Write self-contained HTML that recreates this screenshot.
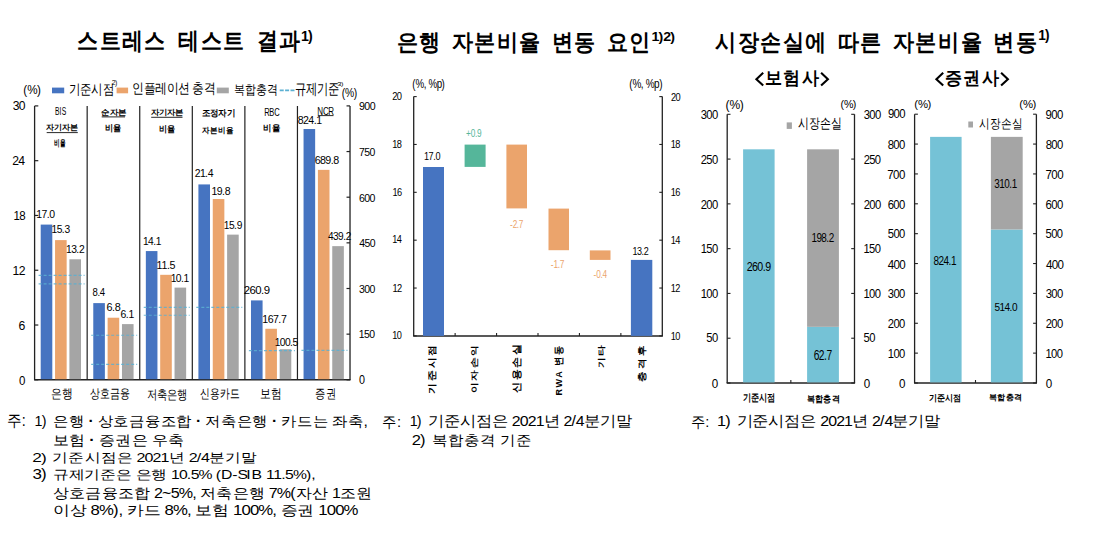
<!DOCTYPE html>
<html><head><meta charset="utf-8"><title>stress test</title><style>
html,body{margin:0;padding:0;background:#fff;}
body{width:1099px;height:540px;overflow:hidden;}
svg{display:block;font-family:"Liberation Sans",sans-serif;}
</style></head><body>
<svg width="1099" height="540" viewBox="0 0 1099 540">
<rect width="1099" height="540" fill="#fff"/>
<rect x="52.00" y="87.60" width="12.20" height="5.70" fill="#4674C1" />
<rect x="116.60" y="87.60" width="11.50" height="5.70" fill="#EBA46C" />
<rect x="216.80" y="87.60" width="12.00" height="5.70" fill="#A5A5A5" />
<line x1="279.70" y1="90.40" x2="294.50" y2="90.40" stroke="#5BB0D2" stroke-width="1.6" stroke-dasharray="4,1.4"/>
<line x1="34.60" y1="105.90" x2="34.60" y2="379.80" stroke="#222" stroke-width="1.3" />
<line x1="350.02" y1="105.90" x2="350.02" y2="379.80" stroke="#222" stroke-width="1.3" />
<line x1="34.00" y1="379.80" x2="350.62" y2="379.80" stroke="#222" stroke-width="1.5" />
<line x1="34.60" y1="379.80" x2="38.30" y2="379.80" stroke="#222" stroke-width="1.2" />
<line x1="34.60" y1="325.02" x2="38.30" y2="325.02" stroke="#222" stroke-width="1.2" />
<line x1="34.60" y1="270.24" x2="38.30" y2="270.24" stroke="#222" stroke-width="1.2" />
<line x1="34.60" y1="215.46" x2="38.30" y2="215.46" stroke="#222" stroke-width="1.2" />
<line x1="34.60" y1="160.68" x2="38.30" y2="160.68" stroke="#222" stroke-width="1.2" />
<line x1="34.60" y1="105.90" x2="38.30" y2="105.90" stroke="#222" stroke-width="1.2" />
<line x1="346.52" y1="379.80" x2="350.02" y2="379.80" stroke="#222" stroke-width="1.2" />
<line x1="346.52" y1="334.15" x2="350.02" y2="334.15" stroke="#222" stroke-width="1.2" />
<line x1="346.52" y1="288.50" x2="350.02" y2="288.50" stroke="#222" stroke-width="1.2" />
<line x1="346.52" y1="242.85" x2="350.02" y2="242.85" stroke="#222" stroke-width="1.2" />
<line x1="346.52" y1="197.20" x2="350.02" y2="197.20" stroke="#222" stroke-width="1.2" />
<line x1="346.52" y1="151.55" x2="350.02" y2="151.55" stroke="#222" stroke-width="1.2" />
<line x1="346.52" y1="105.90" x2="350.02" y2="105.90" stroke="#222" stroke-width="1.2" />
<line x1="87.17" y1="105.90" x2="87.17" y2="379.80" stroke="#222" stroke-width="1.2" />
<line x1="139.74" y1="105.90" x2="139.74" y2="379.80" stroke="#222" stroke-width="1.2" />
<line x1="192.31" y1="105.90" x2="192.31" y2="379.80" stroke="#222" stroke-width="1.2" />
<line x1="244.88" y1="105.90" x2="244.88" y2="379.80" stroke="#222" stroke-width="1.2" />
<line x1="297.45" y1="105.90" x2="297.45" y2="379.80" stroke="#222" stroke-width="1.2" />
<rect x="40.70" y="224.59" width="11.60" height="154.61" fill="#4674C1" />
<rect x="55.05" y="240.11" width="11.60" height="139.09" fill="#EBA46C" />
<rect x="69.40" y="259.28" width="11.60" height="119.92" fill="#A5A5A5" />
<rect x="93.27" y="303.11" width="11.60" height="76.09" fill="#4674C1" />
<rect x="107.62" y="317.72" width="11.60" height="61.48" fill="#EBA46C" />
<rect x="121.97" y="324.11" width="11.60" height="55.09" fill="#A5A5A5" />
<rect x="145.84" y="251.07" width="11.60" height="128.13" fill="#4674C1" />
<rect x="160.19" y="274.81" width="11.60" height="104.39" fill="#EBA46C" />
<rect x="174.54" y="287.59" width="11.60" height="91.61" fill="#A5A5A5" />
<rect x="198.41" y="184.42" width="11.60" height="194.78" fill="#4674C1" />
<rect x="212.76" y="199.03" width="11.60" height="180.17" fill="#EBA46C" />
<rect x="227.11" y="234.63" width="11.60" height="144.57" fill="#A5A5A5" />
<rect x="250.98" y="300.40" width="11.60" height="78.80" fill="#4674C1" />
<rect x="265.33" y="328.76" width="11.60" height="50.44" fill="#EBA46C" />
<rect x="279.68" y="349.21" width="11.60" height="29.99" fill="#A5A5A5" />
<rect x="303.55" y="129.00" width="11.60" height="250.20" fill="#4674C1" />
<rect x="317.90" y="169.87" width="11.60" height="209.33" fill="#EBA46C" />
<rect x="332.25" y="246.14" width="11.60" height="133.06" fill="#A5A5A5" />
<line x1="46.70" y1="132.60" x2="77.80" y2="132.60" stroke="#111" stroke-width="0.9" />
<line x1="101.70" y1="116.90" x2="125.00" y2="116.90" stroke="#111" stroke-width="0.9" />
<line x1="151.20" y1="117.30" x2="182.50" y2="117.30" stroke="#111" stroke-width="0.9" />
<line x1="317.80" y1="115.60" x2="333.50" y2="115.60" stroke="#111" stroke-width="0.9" />
<line x1="413.70" y1="96.60" x2="413.70" y2="335.90" stroke="#222" stroke-width="1.3" />
<line x1="662.30" y1="96.60" x2="662.30" y2="335.90" stroke="#222" stroke-width="1.3" />
<line x1="413.10" y1="335.90" x2="662.90" y2="335.90" stroke="#222" stroke-width="1.5" />
<line x1="413.70" y1="335.90" x2="416.70" y2="335.90" stroke="#222" stroke-width="1.1" />
<line x1="659.30" y1="335.90" x2="662.30" y2="335.90" stroke="#222" stroke-width="1.1" />
<line x1="413.70" y1="288.04" x2="416.70" y2="288.04" stroke="#222" stroke-width="1.1" />
<line x1="659.30" y1="288.04" x2="662.30" y2="288.04" stroke="#222" stroke-width="1.1" />
<line x1="413.70" y1="240.18" x2="416.70" y2="240.18" stroke="#222" stroke-width="1.1" />
<line x1="659.30" y1="240.18" x2="662.30" y2="240.18" stroke="#222" stroke-width="1.1" />
<line x1="413.70" y1="192.32" x2="416.70" y2="192.32" stroke="#222" stroke-width="1.1" />
<line x1="659.30" y1="192.32" x2="662.30" y2="192.32" stroke="#222" stroke-width="1.1" />
<line x1="413.70" y1="144.46" x2="416.70" y2="144.46" stroke="#222" stroke-width="1.1" />
<line x1="659.30" y1="144.46" x2="662.30" y2="144.46" stroke="#222" stroke-width="1.1" />
<line x1="413.70" y1="96.60" x2="416.70" y2="96.60" stroke="#222" stroke-width="1.1" />
<line x1="659.30" y1="96.60" x2="662.30" y2="96.60" stroke="#222" stroke-width="1.1" />
<line x1="455.13" y1="332.90" x2="455.13" y2="335.90" stroke="#222" stroke-width="1.1" />
<line x1="496.57" y1="332.90" x2="496.57" y2="335.90" stroke="#222" stroke-width="1.1" />
<line x1="538.00" y1="332.90" x2="538.00" y2="335.90" stroke="#222" stroke-width="1.1" />
<line x1="579.43" y1="332.90" x2="579.43" y2="335.90" stroke="#222" stroke-width="1.1" />
<line x1="620.87" y1="332.90" x2="620.87" y2="335.90" stroke="#222" stroke-width="1.1" />
<rect x="423.00" y="167.00" width="21.00" height="168.90" fill="#4674C1" />
<rect x="464.60" y="144.60" width="21.00" height="22.30" fill="#55B69A" />
<rect x="506.40" y="144.60" width="20.60" height="63.80" fill="#EBA46C" />
<rect x="548.50" y="208.60" width="20.50" height="41.60" fill="#EBA46C" />
<rect x="589.80" y="250.40" width="20.70" height="9.50" fill="#EBA46C" />
<rect x="630.90" y="259.90" width="21.40" height="76.00" fill="#4674C1" />
<polyline points="763.2,72.8 756.4,79.2 763.2,85.6" fill="none" stroke="#000" stroke-width="2.1" stroke-linejoin="miter"/>
<polyline points="821.1,72.8 827.9,79.2 821.1,85.6" fill="none" stroke="#000" stroke-width="2.1" stroke-linejoin="miter"/>
<polyline points="943.2,72.8 936.4,79.2 943.2,85.6" fill="none" stroke="#000" stroke-width="2.1" stroke-linejoin="miter"/>
<polyline points="1001.1,72.8 1007.9,79.2 1001.1,85.6" fill="none" stroke="#000" stroke-width="2.1" stroke-linejoin="miter"/>
<line x1="727.20" y1="114.30" x2="727.20" y2="383.00" stroke="#222" stroke-width="1.3" />
<line x1="854.50" y1="114.30" x2="854.50" y2="383.00" stroke="#222" stroke-width="1.3" />
<line x1="726.60" y1="383.00" x2="855.10" y2="383.00" stroke="#222" stroke-width="1.5" />
<line x1="790.85" y1="380.00" x2="790.85" y2="383.00" stroke="#222" stroke-width="1.1" />
<line x1="727.20" y1="383.00" x2="730.50" y2="383.00" stroke="#222" stroke-width="1.1" />
<line x1="851.20" y1="383.00" x2="854.50" y2="383.00" stroke="#222" stroke-width="1.1" />
<line x1="727.20" y1="338.22" x2="730.50" y2="338.22" stroke="#222" stroke-width="1.1" />
<line x1="851.20" y1="338.22" x2="854.50" y2="338.22" stroke="#222" stroke-width="1.1" />
<line x1="727.20" y1="293.43" x2="730.50" y2="293.43" stroke="#222" stroke-width="1.1" />
<line x1="851.20" y1="293.43" x2="854.50" y2="293.43" stroke="#222" stroke-width="1.1" />
<line x1="727.20" y1="248.65" x2="730.50" y2="248.65" stroke="#222" stroke-width="1.1" />
<line x1="851.20" y1="248.65" x2="854.50" y2="248.65" stroke="#222" stroke-width="1.1" />
<line x1="727.20" y1="203.87" x2="730.50" y2="203.87" stroke="#222" stroke-width="1.1" />
<line x1="851.20" y1="203.87" x2="854.50" y2="203.87" stroke="#222" stroke-width="1.1" />
<line x1="727.20" y1="159.08" x2="730.50" y2="159.08" stroke="#222" stroke-width="1.1" />
<line x1="851.20" y1="159.08" x2="854.50" y2="159.08" stroke="#222" stroke-width="1.1" />
<line x1="727.20" y1="114.30" x2="730.50" y2="114.30" stroke="#222" stroke-width="1.1" />
<line x1="851.20" y1="114.30" x2="854.50" y2="114.30" stroke="#222" stroke-width="1.1" />
<rect x="743.10" y="149.32" width="31.50" height="233.08" fill="#75C2D6" />
<rect x="807.10" y="326.84" width="31.80" height="55.56" fill="#75C2D6" />
<rect x="807.10" y="149.32" width="31.80" height="177.52" fill="#A5A5A5" />
<rect x="786.70" y="122.40" width="5.20" height="6.50" fill="#A5A5A5" />
<line x1="914.60" y1="114.20" x2="914.60" y2="383.00" stroke="#222" stroke-width="1.3" />
<line x1="1036.40" y1="114.20" x2="1036.40" y2="383.00" stroke="#222" stroke-width="1.3" />
<line x1="914.00" y1="383.00" x2="1037.00" y2="383.00" stroke="#222" stroke-width="1.5" />
<line x1="975.50" y1="380.00" x2="975.50" y2="383.00" stroke="#222" stroke-width="1.1" />
<line x1="914.60" y1="383.00" x2="917.90" y2="383.00" stroke="#222" stroke-width="1.1" />
<line x1="1033.10" y1="383.00" x2="1036.40" y2="383.00" stroke="#222" stroke-width="1.1" />
<line x1="914.60" y1="353.13" x2="917.90" y2="353.13" stroke="#222" stroke-width="1.1" />
<line x1="1033.10" y1="353.13" x2="1036.40" y2="353.13" stroke="#222" stroke-width="1.1" />
<line x1="914.60" y1="323.27" x2="917.90" y2="323.27" stroke="#222" stroke-width="1.1" />
<line x1="1033.10" y1="323.27" x2="1036.40" y2="323.27" stroke="#222" stroke-width="1.1" />
<line x1="914.60" y1="293.40" x2="917.90" y2="293.40" stroke="#222" stroke-width="1.1" />
<line x1="1033.10" y1="293.40" x2="1036.40" y2="293.40" stroke="#222" stroke-width="1.1" />
<line x1="914.60" y1="263.53" x2="917.90" y2="263.53" stroke="#222" stroke-width="1.1" />
<line x1="1033.10" y1="263.53" x2="1036.40" y2="263.53" stroke="#222" stroke-width="1.1" />
<line x1="914.60" y1="233.67" x2="917.90" y2="233.67" stroke="#222" stroke-width="1.1" />
<line x1="1033.10" y1="233.67" x2="1036.40" y2="233.67" stroke="#222" stroke-width="1.1" />
<line x1="914.60" y1="203.80" x2="917.90" y2="203.80" stroke="#222" stroke-width="1.1" />
<line x1="1033.10" y1="203.80" x2="1036.40" y2="203.80" stroke="#222" stroke-width="1.1" />
<line x1="914.60" y1="173.93" x2="917.90" y2="173.93" stroke="#222" stroke-width="1.1" />
<line x1="1033.10" y1="173.93" x2="1036.40" y2="173.93" stroke="#222" stroke-width="1.1" />
<line x1="914.60" y1="144.07" x2="917.90" y2="144.07" stroke="#222" stroke-width="1.1" />
<line x1="1033.10" y1="144.07" x2="1036.40" y2="144.07" stroke="#222" stroke-width="1.1" />
<line x1="914.60" y1="114.20" x2="917.90" y2="114.20" stroke="#222" stroke-width="1.1" />
<line x1="1033.10" y1="114.20" x2="1036.40" y2="114.20" stroke="#222" stroke-width="1.1" />
<rect x="930.10" y="136.87" width="31.50" height="245.53" fill="#75C2D6" />
<rect x="990.90" y="229.49" width="31.80" height="152.91" fill="#75C2D6" />
<rect x="990.90" y="136.87" width="31.80" height="92.62" fill="#A5A5A5" />
<rect x="968.30" y="121.50" width="4.70" height="6.00" fill="#A5A5A5" />
<line x1="38.60" y1="275.30" x2="84.60" y2="275.30" stroke="#5BB0D2" stroke-width="1.15" stroke-dasharray="3,2" opacity="0.85"/>
<line x1="38.60" y1="283.80" x2="84.60" y2="283.80" stroke="#5BB0D2" stroke-width="1.15" stroke-dasharray="3,2" opacity="0.85"/>
<line x1="91.17" y1="335.20" x2="137.17" y2="335.20" stroke="#5BB0D2" stroke-width="1.15" stroke-dasharray="3,2" opacity="0.85"/>
<line x1="91.17" y1="364.30" x2="137.17" y2="364.30" stroke="#5BB0D2" stroke-width="1.15" stroke-dasharray="3,2" opacity="0.85"/>
<line x1="143.74" y1="307.30" x2="189.74" y2="307.30" stroke="#5BB0D2" stroke-width="1.15" stroke-dasharray="3,2" opacity="0.85"/>
<line x1="143.74" y1="315.20" x2="189.74" y2="315.20" stroke="#5BB0D2" stroke-width="1.15" stroke-dasharray="3,2" opacity="0.85"/>
<line x1="196.31" y1="307.30" x2="242.31" y2="307.30" stroke="#5BB0D2" stroke-width="1.15" stroke-dasharray="3,2" opacity="0.85"/>
<line x1="248.88" y1="350.60" x2="294.88" y2="350.60" stroke="#5BB0D2" stroke-width="1.15" stroke-dasharray="3,2" opacity="0.85"/>
<line x1="301.45" y1="350.40" x2="347.45" y2="350.40" stroke="#5BB0D2" stroke-width="1.15" stroke-dasharray="3,2" opacity="0.85"/>
<text transform="translate(77.464,49.377) scale(0.51752,0.59352)" x="0 43 86 129 172 195 238 281 324 347 390" font-size="40" font-weight="bold" fill="#000">스트레스 테스트 결과</text>
<text transform="translate(300.908,40.590) scale(0.35527,0.35035)" x="0 20" font-size="40" font-weight="bold" fill="#000">1)</text>
<text transform="translate(396.905,50.202) scale(0.53767,0.58623)" x="0 42 84 102 144 186 228 270 288 330 372 390 432" font-size="40" font-weight="bold" fill="#000">은행 자본비율 변동 요인</text>
<text transform="translate(651.405,41.227) scale(0.35519,0.32953)" x="0 20 33.31 53.31" font-size="40" font-weight="bold" fill="#000">1)2)</text>
<text transform="translate(715.020,50.205) scale(0.53857,0.58578)" x="0 42 84 126 168 210 228 270 312 330 372 414 456 498 516 558" font-size="40" font-weight="bold" fill="#000">시장손실에 따른 자본비율 변동</text>
<text transform="translate(1038.182,40.355) scale(0.34181,0.35657)" x="0 20" font-size="40" font-weight="bold" fill="#000">1)</text>
<text transform="translate(23.277,93.514) scale(0.29209,0.31828)" x="0 13.31 46.64" font-size="40" font-weight="normal" fill="#000">(%)</text>
<text transform="translate(68.671,93.760) scale(0.28438,0.34627)" x="0 40 80 120" font-size="40" font-weight="normal" fill="#000">기준시점</text>
<text transform="translate(111.632,85.225) scale(0.17069,0.16249)" x="0 20" font-size="40" font-weight="normal" fill="#000">2)</text>
<text transform="translate(132.287,93.133) scale(0.28553,0.33750)" x="0 40 80 120 160 200 210 250" font-size="40" font-weight="normal" fill="#000">인플레이션 충격</text>
<text transform="translate(233.561,93.597) scale(0.27656,0.32806)" x="0 40 80 120" font-size="40" font-weight="normal" fill="#000">복합충격</text>
<text transform="translate(294.951,94.030) scale(0.27659,0.36717)" x="0 40 80 120" font-size="40" font-weight="normal" fill="#000">규제기준</text>
<text transform="translate(337.311,85.668) scale(0.18738,0.15608)" x="0 20" font-size="40" font-weight="normal" fill="#000">3)</text>
<text transform="translate(341.661,96.546) scale(0.25862,0.30593)" x="0 13.31 46.64" font-size="40" font-weight="normal" fill="#000">(%)</text>
<text transform="translate(18.908,385.000) scale(0.28763,0.31959)" x="0" font-size="40" font-weight="normal" fill="#000">0</text>
<text transform="translate(18.597,329.816) scale(0.30614,0.34016)" x="0" font-size="40" font-weight="normal" fill="#000">6</text>
<text transform="translate(12.582,275.430) scale(0.30399,0.33777)" x="0 20" font-size="40" font-weight="normal" fill="#000">12</text>
<text transform="translate(13.470,220.402) scale(0.28676,0.31862)" x="0 20" font-size="40" font-weight="normal" fill="#000">18</text>
<text transform="translate(12.253,165.401) scale(0.30474,0.33860)" x="0 20" font-size="40" font-weight="normal" fill="#000">24</text>
<text transform="translate(12.778,110.388) scale(0.30306,0.33673)" x="0 20" font-size="40" font-weight="normal" fill="#000">30</text>
<text transform="translate(359.082,384.134) scale(0.26859,0.29843)" x="0" font-size="40" font-weight="normal" fill="#000">0</text>
<text transform="translate(358.753,338.327) scale(0.26122,0.29025)" x="0 20 40" font-size="40" font-weight="normal" fill="#000">150</text>
<text transform="translate(358.946,292.719) scale(0.26224,0.29138)" x="0 20 40" font-size="40" font-weight="normal" fill="#000">300</text>
<text transform="translate(359.323,247.073) scale(0.26146,0.29051)" x="0 20 40" font-size="40" font-weight="normal" fill="#000">450</text>
<text transform="translate(359.027,201.538) scale(0.26399,0.29332)" x="0 20 40" font-size="40" font-weight="normal" fill="#000">600</text>
<text transform="translate(358.930,155.873) scale(0.26177,0.29086)" x="0 20 40" font-size="40" font-weight="normal" fill="#000">750</text>
<text transform="translate(359.056,110.352) scale(0.26551,0.29501)" x="0 20 40" font-size="40" font-weight="normal" fill="#000">900</text>
<text transform="translate(36.255,218.369) scale(0.26147,0.26304)" x="0 20 40 50" font-size="40" font-weight="normal" fill="#000">17.0</text>
<text transform="translate(51.597,233.491) scale(0.25687,0.26349)" x="0 20 40 50" font-size="40" font-weight="normal" fill="#000">15.3</text>
<text transform="translate(65.983,253.090) scale(0.25824,0.26532)" x="0 20 40 50" font-size="40" font-weight="normal" fill="#000">13.2</text>
<text transform="translate(51.185,398.298) scale(0.28013,0.33656)" x="0 40" font-size="40" font-weight="normal" fill="#000">은행</text>
<text transform="translate(92.619,296.427) scale(0.23896,0.27796)" x="0 20 30" font-size="40" font-weight="normal" fill="#000">8.4</text>
<text transform="translate(106.504,311.485) scale(0.27122,0.27648)" x="0 20 30" font-size="40" font-weight="normal" fill="#000">6.8</text>
<text transform="translate(120.620,318.096) scale(0.26156,0.26441)" x="0 20 30" font-size="40" font-weight="normal" fill="#000">6.1</text>
<text transform="translate(90.057,398.254) scale(0.25152,0.32727)" x="0 40 80 120" font-size="40" font-weight="normal" fill="#000">상호금융</text>
<text transform="translate(143.004,244.553) scale(0.25541,0.26794)" x="0 20 40 50" font-size="40" font-weight="normal" fill="#000">14.1</text>
<text transform="translate(156.575,268.906) scale(0.26862,0.26524)" x="0 18.52 38.52 48.52" font-size="40" font-weight="normal" fill="#000">11.5</text>
<text transform="translate(170.638,281.827) scale(0.25876,0.26542)" x="0 20 40 50" font-size="40" font-weight="normal" fill="#000">10.1</text>
<text transform="translate(146.538,398.519) scale(0.25802,0.32382)" x="0 40 80 120" font-size="40" font-weight="normal" fill="#000">저축은행</text>
<text transform="translate(194.662,177.315) scale(0.26165,0.26671)" x="0 20 40 50" font-size="40" font-weight="normal" fill="#000">21.4</text>
<text transform="translate(211.561,195.491) scale(0.26347,0.26331)" x="0 20 40 50" font-size="40" font-weight="normal" fill="#000">19.8</text>
<text transform="translate(223.859,228.895) scale(0.25606,0.26579)" x="0 20 40 50" font-size="40" font-weight="normal" fill="#000">15.9</text>
<text transform="translate(200.400,398.339) scale(0.25041,0.33369)" x="0 40 80 120" font-size="40" font-weight="normal" fill="#000">신용카드</text>
<text transform="translate(243.830,293.514) scale(0.28514,0.26653)" x="0 20 40 60 70" font-size="40" font-weight="normal" fill="#000">260.9</text>
<text transform="translate(262.345,323.327) scale(0.26583,0.26249)" x="0 20 40 60 70" font-size="40" font-weight="normal" fill="#000">167.7</text>
<text transform="translate(274.647,346.408) scale(0.25681,0.26468)" x="0 20 40 60 70" font-size="40" font-weight="normal" fill="#000">100.5</text>
<text transform="translate(260.002,398.322) scale(0.27285,0.32981)" x="0 40" font-size="40" font-weight="normal" fill="#000">보험</text>
<text transform="translate(297.787,124.097) scale(0.26427,0.26579)" x="0 20 40 60 70" font-size="40" font-weight="normal" fill="#000">824.1</text>
<text transform="translate(314.642,163.999) scale(0.26777,0.27325)" x="0 20 40 60 70" font-size="40" font-weight="normal" fill="#000">689.8</text>
<text transform="translate(327.969,240.028) scale(0.25295,0.26662)" x="0 20 40 60 70" font-size="40" font-weight="normal" fill="#000">439.2</text>
<text transform="translate(315.402,398.296) scale(0.26673,0.33702)" x="0 40" font-size="40" font-weight="normal" fill="#000">증권</text>
<text transform="translate(54.875,115.353) scale(0.16904,0.26230)" x="0 26.67 40" font-size="40" font-weight="normal" fill="#000">BIS</text>
<text transform="translate(46.134,130.203) scale(0.20171,0.20000)" x="0 40 80 120" font-size="40" font-weight="bold" fill="#000">자기자본</text>
<text transform="translate(54.230,146.391) scale(0.14778,0.23735)" x="0 40" font-size="40" font-weight="bold" fill="#000">비율</text>
<text transform="translate(101.472,115.025) scale(0.20338,0.19175)" x="0 40 80" font-size="40" font-weight="bold" fill="#000">순자본</text>
<text transform="translate(104.927,131.169) scale(0.20309,0.22333)" x="0 40" font-size="40" font-weight="bold" fill="#000">비율</text>
<text transform="translate(150.942,115.024) scale(0.20051,0.19189)" x="0 40 80 120" font-size="40" font-weight="bold" fill="#000">자기자본</text>
<text transform="translate(159.436,131.797) scale(0.19847,0.21948)" x="0 40" font-size="40" font-weight="bold" fill="#000">비율</text>
<text transform="translate(202.092,116.158) scale(0.20404,0.21512)" x="0 40 80 120" font-size="40" font-weight="bold" fill="#000">조정자기</text>
<text transform="translate(202.480,132.596) scale(0.19905,0.21213)" x="0 40 80 120" font-size="40" font-weight="bold" fill="#000">자본비율</text>
<text transform="translate(264.219,116.374) scale(0.18907,0.26265)" x="0 26.67 53.36" font-size="40" font-weight="normal" fill="#000">RBC</text>
<text transform="translate(263.334,131.063) scale(0.21192,0.22674)" x="0 40" font-size="40" font-weight="bold" fill="#000">비율</text>
<text transform="translate(317.197,114.614) scale(0.20097,0.26008)" x="0 28.88 55.56" font-size="40" font-weight="normal" fill="#000">NCR</text>
<text transform="translate(412.245,88.127) scale(0.24447,0.31159)" x="0 13.31 46.64 56.64 66.64 99.95 119.95" font-size="40" font-weight="normal" fill="#000">(%, %p)</text>
<text transform="translate(629.134,88.152) scale(0.25016,0.31231)" x="0 13.31 46.64 56.64 66.64 99.95 119.95" font-size="40" font-weight="normal" fill="#000">(%, %p)</text>
<text transform="translate(392.193,339.293) scale(0.22971,0.25523)" x="0 20" font-size="40" font-weight="normal" fill="#000">10</text>
<text transform="translate(670.636,339.877) scale(0.22971,0.25523)" x="0 20" font-size="40" font-weight="normal" fill="#000">10</text>
<text transform="translate(392.443,291.738) scale(0.23171,0.25746)" x="0 20" font-size="40" font-weight="normal" fill="#000">12</text>
<text transform="translate(670.637,291.620) scale(0.22939,0.25488)" x="0 20" font-size="40" font-weight="normal" fill="#000">12</text>
<text transform="translate(392.171,243.440) scale(0.22995,0.25550)" x="0 20" font-size="40" font-weight="normal" fill="#000">14</text>
<text transform="translate(670.631,244.030) scale(0.23108,0.25676)" x="0 20" font-size="40" font-weight="normal" fill="#000">14</text>
<text transform="translate(392.484,195.880) scale(0.23043,0.25604)" x="0 20" font-size="40" font-weight="normal" fill="#000">16</text>
<text transform="translate(670.633,196.440) scale(0.23051,0.25613)" x="0 20" font-size="40" font-weight="normal" fill="#000">16</text>
<text transform="translate(392.168,148.291) scale(0.23084,0.25649)" x="0 20" font-size="40" font-weight="normal" fill="#000">18</text>
<text transform="translate(670.634,148.181) scale(0.23019,0.25577)" x="0 20" font-size="40" font-weight="normal" fill="#000">18</text>
<text transform="translate(392.172,100.152) scale(0.23399,0.25999)" x="0 20" font-size="40" font-weight="normal" fill="#000">20</text>
<text transform="translate(670.949,100.687) scale(0.23211,0.25790)" x="0 20" font-size="40" font-weight="normal" fill="#000">20</text>
<text transform="translate(424.063,160.070) scale(0.22818,0.25541)" x="0 20 40 50" font-size="40" font-weight="normal" fill="#000">17.0</text>
<text transform="translate(466.123,136.596) scale(0.20630,0.26033)" x="0 22.55 42.55 52.55" font-size="40" font-weight="normal" fill="#55B69A">+0.9</text>
<text transform="translate(509.981,227.628) scale(0.20525,0.25721)" x="0 13.31 33.31 43.31" font-size="40" font-weight="normal" fill="#EBA46C">-2.7</text>
<text transform="translate(550.674,268.383) scale(0.20914,0.28233)" x="0 13.31 33.31 43.31" font-size="40" font-weight="normal" fill="#EBA46C">-1.7</text>
<text transform="translate(593.576,277.531) scale(0.20630,0.28387)" x="0 13.31 33.31 43.31" font-size="40" font-weight="normal" fill="#EBA46C">-0.4</text>
<text transform="translate(632.514,255.270) scale(0.22416,0.27753)" x="0 20 40 50" font-size="40" font-weight="normal" fill="#000">13.2</text>
<text transform="translate(435.493,393.559) scale(0.21878,0.26236) rotate(-90)" x="0 48 96 144" font-size="40" font-weight="bold" fill="#000">기준시점</text>
<text transform="translate(477.470,393.206) scale(0.19527,0.26117) rotate(-90)" x="0 48 96 144" font-size="40" font-weight="bold" fill="#000">이자손익</text>
<text transform="translate(519.797,393.042) scale(0.23937,0.26209) rotate(-90)" x="0 48 96 144" font-size="40" font-weight="bold" fill="#000">신용손실</text>
<text transform="translate(561.568,395.395) scale(0.24492,0.22487) rotate(-90)" x="0 35.47 79.05 113.72 131.72 179.72" font-size="40" font-weight="bold" fill="#000">RWA 변동</text>
<text transform="translate(603.525,368.351) scale(0.19322,0.25994) rotate(-90)" x="0 48" font-size="40" font-weight="bold" fill="#000">기타</text>
<text transform="translate(644.903,381.548) scale(0.22386,0.26231) rotate(-90)" x="0 48 96" font-size="40" font-weight="bold" fill="#000">충격후</text>
<text transform="translate(764.501,84.076) scale(0.43068,0.45553)" x="0 43 86" font-size="40" font-weight="bold" fill="#000">보험사</text>
<text transform="translate(944.501,84.051) scale(0.43068,0.45463)" x="0 43 86" font-size="40" font-weight="bold" fill="#000">증권사</text>
<text transform="translate(711.783,387.731) scale(0.29020,0.31204)" x="0" font-size="40" font-weight="normal" fill="#000">0</text>
<text transform="translate(863.798,387.747) scale(0.29083,0.31272)" x="0" font-size="40" font-weight="normal" fill="#000">0</text>
<text transform="translate(706.365,342.465) scale(0.27996,0.30103)" x="0 20" font-size="40" font-weight="normal" fill="#000">50</text>
<text transform="translate(863.563,342.460) scale(0.27979,0.30085)" x="0 20" font-size="40" font-weight="normal" fill="#000">50</text>
<text transform="translate(700.693,298.098) scale(0.28114,0.30230)" x="0 20 40" font-size="40" font-weight="normal" fill="#000">100</text>
<text transform="translate(863.441,298.098) scale(0.28080,0.30194)" x="0 20 40" font-size="40" font-weight="normal" fill="#000">100</text>
<text transform="translate(700.776,253.067) scale(0.27979,0.30085)" x="0 20 40" font-size="40" font-weight="normal" fill="#000">150</text>
<text transform="translate(863.449,253.067) scale(0.27979,0.30085)" x="0 20 40" font-size="40" font-weight="normal" fill="#000">150</text>
<text transform="translate(700.693,208.727) scale(0.28114,0.30230)" x="0 20 40" font-size="40" font-weight="normal" fill="#000">200</text>
<text transform="translate(863.648,208.726) scale(0.28106,0.30221)" x="0 20 40" font-size="40" font-weight="normal" fill="#000">200</text>
<text transform="translate(700.776,163.716) scale(0.27979,0.30085)" x="0 20 40" font-size="40" font-weight="normal" fill="#000">250</text>
<text transform="translate(863.651,163.716) scale(0.27979,0.30085)" x="0 20 40" font-size="40" font-weight="normal" fill="#000">250</text>
<text transform="translate(700.683,118.710) scale(0.28131,0.30249)" x="0 20 40" font-size="40" font-weight="normal" fill="#000">300</text>
<text transform="translate(863.636,118.705) scale(0.28106,0.30221)" x="0 20 40" font-size="40" font-weight="normal" fill="#000">300</text>
<text transform="translate(725.602,108.877) scale(0.30189,0.31645)" x="0 13.31 46.64" font-size="40" font-weight="normal" fill="#000">(%)</text>
<text transform="translate(840.454,107.805) scale(0.26630,0.28032)" x="0 13.31 46.64" font-size="40" font-weight="normal" fill="#000">(%)</text>
<text transform="translate(746.654,271.200) scale(0.26645,0.33310)" x="0 20 40 60 70" font-size="40" font-weight="normal" fill="#000">260.9</text>
<text transform="translate(813.646,360.000) scale(0.25631,0.34450)" x="0 20 40 50" font-size="40" font-weight="normal" fill="#000">62.7</text>
<text transform="translate(811.435,242.414) scale(0.24797,0.31147)" x="0 20 40 60 70" font-size="40" font-weight="normal" fill="#000">198.2</text>
<text transform="translate(742.867,401.483) scale(0.20475,0.25059)" x="0 40 80 120" font-size="40" font-weight="bold" fill="#000">기준시점</text>
<text transform="translate(806.582,401.688) scale(0.21059,0.23459)" x="0 40 80 120" font-size="40" font-weight="bold" fill="#000">복합충격</text>
<text transform="translate(798.235,128.369) scale(0.27706,0.35558)" x="0 40 80 120" font-size="40" font-weight="normal" fill="#000">시장손실</text>
<text transform="translate(898.882,387.755) scale(0.29137,0.31330)" x="0" font-size="40" font-weight="normal" fill="#000">0</text>
<text transform="translate(1045.798,387.747) scale(0.29083,0.31272)" x="0" font-size="40" font-weight="normal" fill="#000">0</text>
<text transform="translate(887.803,357.884) scale(0.28029,0.30139)" x="0 20 40" font-size="40" font-weight="normal" fill="#000">100</text>
<text transform="translate(1045.441,357.883) scale(0.28080,0.30194)" x="0 20 40" font-size="40" font-weight="normal" fill="#000">100</text>
<text transform="translate(887.803,327.607) scale(0.28029,0.30139)" x="0 20 40" font-size="40" font-weight="normal" fill="#000">200</text>
<text transform="translate(1045.648,327.606) scale(0.28106,0.30221)" x="0 20 40" font-size="40" font-weight="normal" fill="#000">200</text>
<text transform="translate(887.787,298.008) scale(0.28055,0.30166)" x="0 20 40" font-size="40" font-weight="normal" fill="#000">300</text>
<text transform="translate(1045.636,298.000) scale(0.28106,0.30221)" x="0 20 40" font-size="40" font-weight="normal" fill="#000">300</text>
<text transform="translate(887.638,268.645) scale(0.28886,0.31061)" x="0 20 40" font-size="40" font-weight="normal" fill="#000">400</text>
<text transform="translate(1045.959,268.656) scale(0.28985,0.31167)" x="0 20 40" font-size="40" font-weight="normal" fill="#000">400</text>
<text transform="translate(887.808,238.129) scale(0.28021,0.30130)" x="0 20 40" font-size="40" font-weight="normal" fill="#000">500</text>
<text transform="translate(1045.563,238.116) scale(0.27979,0.30085)" x="0 20 40" font-size="40" font-weight="normal" fill="#000">500</text>
<text transform="translate(887.696,208.567) scale(0.28182,0.30303)" x="0 20 40" font-size="40" font-weight="normal" fill="#000">600</text>
<text transform="translate(1045.595,208.622) scale(0.28414,0.30553)" x="0 20 40" font-size="40" font-weight="normal" fill="#000">600</text>
<text transform="translate(887.373,178.514) scale(0.28789,0.30956)" x="0 20 40" font-size="40" font-weight="normal" fill="#000">700</text>
<text transform="translate(1045.606,178.524) scale(0.28824,0.30994)" x="0 20 40" font-size="40" font-weight="normal" fill="#000">700</text>
<text transform="translate(887.628,148.736) scale(0.28293,0.30423)" x="0 20 40" font-size="40" font-weight="normal" fill="#000">800</text>
<text transform="translate(1045.676,148.729) scale(0.28310,0.30441)" x="0 20 40" font-size="40" font-weight="normal" fill="#000">800</text>
<text transform="translate(887.892,118.494) scale(0.28319,0.30450)" x="0 20 40" font-size="40" font-weight="normal" fill="#000">900</text>
<text transform="translate(1045.590,118.537) scale(0.28544,0.30692)" x="0 20 40" font-size="40" font-weight="normal" fill="#000">900</text>
<text transform="translate(914.312,107.724) scale(0.28404,0.25017)" x="0 13.31 46.64" font-size="40" font-weight="normal" fill="#000">(%)</text>
<text transform="translate(1019.312,107.724) scale(0.28404,0.25017)" x="0 13.31 46.64" font-size="40" font-weight="normal" fill="#000">(%)</text>
<text transform="translate(933.455,264.673) scale(0.25052,0.30114)" x="0 20 40 60 70" font-size="40" font-weight="normal" fill="#000">824.1</text>
<text transform="translate(994.500,310.655) scale(0.25166,0.27114)" x="0 20 40 60 70" font-size="40" font-weight="normal" fill="#000">514.0</text>
<text transform="translate(994.329,188.000) scale(0.24755,0.30358)" x="0 20 40 60 70" font-size="40" font-weight="normal" fill="#000">310.1</text>
<text transform="translate(929.052,400.524) scale(0.20285,0.22542)" x="0 40 80 120" font-size="40" font-weight="bold" fill="#000">기준시점</text>
<text transform="translate(988.926,400.470) scale(0.21004,0.20885)" x="0 40 80 120" font-size="40" font-weight="bold" fill="#000">복합충격</text>
<text transform="translate(979.122,128.301) scale(0.27581,0.33598)" x="0 40 80 120" font-size="40" font-weight="normal" fill="#000">시장손실</text>
<text transform="translate(7.301,426.278) scale(0.35897,0.39328)" x="0 40" font-size="40" font-weight="normal" fill="#000">주:</text>
<text transform="translate(34.546,425.937) scale(0.35628,0.35922)" x="0 20" font-size="40" font-weight="normal" fill="#000">1)</text>
<text transform="translate(53.147,426.305) scale(0.39298,0.35793)" x="0 40 80 90 103.34 113.34 153.34 193.34 233.34 273.34 313.34 353.34 363.34 376.69 386.69 426.69 466.69 506.69 546.69 556.69 570.03 580.03 620.03 660.03 700.03 710.03 750.03 790.03" font-size="40" font-weight="normal" fill="#000">은행 <tspan font-weight="bold">·</tspan> 상호금융조합 <tspan font-weight="bold">·</tspan> 저축은행 <tspan font-weight="bold">·</tspan> 카드는 좌축,</text>
<text transform="translate(52.637,445.002) scale(0.40807,0.35800)" x="0 40 80 90 103.34 113.34 153.34 193.34 233.34 243.34 283.34" font-size="40" font-weight="normal" fill="#000">보험 <tspan font-weight="bold">·</tspan> 증권은 우축</text>
<text transform="translate(32.336,461.525) scale(0.43112,0.33551)" x="0 20" font-size="40" font-weight="normal" fill="#000">2)</text>
<text transform="translate(52.485,461.576) scale(0.40056,0.33174)" x="0 40 80 120 160 200 210 230 250 270 290 330 340 360 371.11 391.11 431.11 471.11" font-size="40" font-weight="normal" fill="#000">기준시점은 2021년 2/4분기말</text>
<text transform="translate(32.457,478.812) scale(0.42448,0.34265)" x="0 20" font-size="40" font-weight="normal" fill="#000">3)</text>
<text transform="translate(52.822,478.918) scale(0.39397,0.32457)" x="0 40 80 120 160 200 210 250 290 300 320 340 350 370 403.31 413.31 426.64 455.52 468.84 491.09 504.41 531.09 541.09 559.61 579.61 589.61 609.61 642.92 656.25" font-size="40" font-weight="normal" fill="#000">규제기준은 은행 10.5% (D-SIB 11.5%),</text>
<text transform="translate(53.258,498.258) scale(0.40292,0.35340)" x="0 40 80 120 160 200 240 250 270 291.64 311.64 344.95 354.95 364.95 404.95 444.95 484.95 524.95 534.95 554.95 588.28 601.59 641.59 681.59 691.59 711.59 751.59" font-size="40" font-weight="normal" fill="#000">상호금융조합 2~5%, 저축은행 7%(자산 1조원</text>
<text transform="translate(52.822,515.245) scale(0.41934,0.34870)" x="0 40 80 90 110 143.31 156.64 166.64 176.64 216.64 256.64 266.64 286.64 319.95 329.95 339.95 379.95 419.95 429.95 449.95 469.95 489.95 523.28 533.28 543.28 583.28 623.28 633.28 653.28 673.28 693.28" font-size="40" font-weight="normal" fill="#000">이상 8%), 카드 8%, 보험 100%, 증권 100%</text>
<text transform="translate(382.419,426.606) scale(0.36685,0.38282)" x="0 40" font-size="40" font-weight="normal" fill="#000">주:</text>
<text transform="translate(409.662,425.681) scale(0.35790,0.35704)" x="0 20" font-size="40" font-weight="normal" fill="#000">1)</text>
<text transform="translate(428.293,425.986) scale(0.39767,0.36584)" x="0 40 80 120 160 200 210 230 250 270 290 330 340 360 371.11 391.11 431.11 471.11" font-size="40" font-weight="normal" fill="#000">기준시점은 2021년 2/4분기말</text>
<text transform="translate(411.822,444.538) scale(0.41409,0.35105)" x="0 20" font-size="40" font-weight="normal" fill="#000">2)</text>
<text transform="translate(432.454,444.998) scale(0.39605,0.35786)" x="0 40 80 120 160 170 210" font-size="40" font-weight="normal" fill="#000">복합충격 기준</text>
<text transform="translate(690.620,426.635) scale(0.36629,0.38379)" x="0 40" font-size="40" font-weight="normal" fill="#000">주:</text>
<text transform="translate(717.042,425.519) scale(0.40785,0.34298)" x="0 20" font-size="40" font-weight="normal" fill="#000">1)</text>
<text transform="translate(736.522,425.968) scale(0.39846,0.36632)" x="0 40 80 120 160 200 210 230 250 270 290 330 340 360 371.11 391.11 431.11 471.11" font-size="40" font-weight="normal" fill="#000">기준시점은 2021년 2/4분기말</text>
</svg></body></html>
